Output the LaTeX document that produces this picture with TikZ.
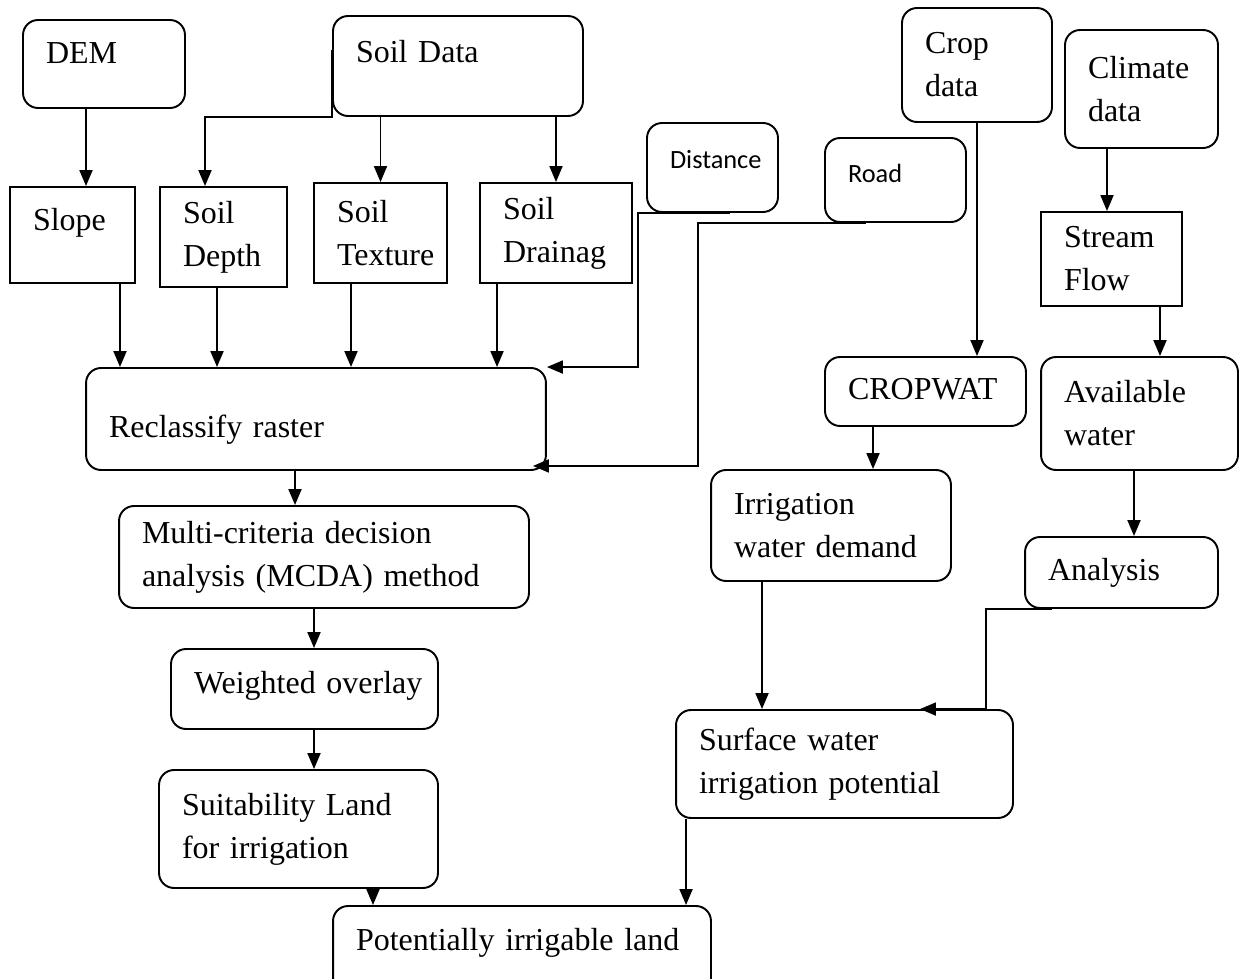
\documentclass[tikz,border=0pt]{standalone}
\usepackage{fontspec}
\setmainfont{Liberation Serif}
\newfontfamily\calibri{Carlito}
\usetikzlibrary{arrows.meta}

\begin{document}
\begin{tikzpicture}[x = 0.02cm, y = -0.02cm,
	every node/.style = {font = \fontsize{18.2}{24.5}\selectfont, align = left, inner xsep = 0.46cm},
	rbox/.style = {draw, rounded corners = 0.3cm, line width = 1.1pt},
	sbox/.style = {draw, line width = 1.1pt},
	sans/.style = {font = \calibri\fontsize{15}{18}\selectfont},
	lift/.style = {text height = 12pt, text depth = #1},
	arr/.style = {-{Triangle[length = 0.32cm, width = 0.26cm]}, line width = 1.1pt}]

	\useasboundingbox (0, 0) rectangle (1240, 979);

	% Input data
	
	\node [rbox, text width = 2.32cm, minimum height = 1.76cm, lift = 12.5pt] (dem) at (104, 64) {DEM};
	\node [rbox, text width = 4.08cm, minimum height = 2.0cm, lift = 16pt] (soil) at (458, 66) {Soil Data};
	\node [rbox, sans, text width = 1.70cm, minimum height = 1.78cm, lift = 11pt] (dist) at (712.5, 167.5) {Distance};
	\node [rbox, sans, text width = 1.90cm, minimum height = 1.68cm, lift = 9pt] (road) at (895.5, 180) {Road};
	\node [rbox, text width = 2.08cm, minimum height = 2.28cm] (crop) at (977, 65) {Crop\\data};
	\node [rbox, text width = 2.14cm, minimum height = 2.36cm] (climate) at (1141.5, 89) {Climate\\data};
	
	% Derived layers
	
	\node [sbox, text width = 1.58cm, minimum height = 1.92cm, lift = 17pt] (slope) at (72.5, 235) {Slope};
	\node [sbox, text width = 1.62cm, minimum height = 2.0cm] (depth) at (223.5, 237) {Soil\\Depth};
	\node [sbox, text width = 1.74cm, minimum height = 2.0cm] (texture) at (380.5, 233) {Soil\\Texture};
	\node [sbox, text width = 2.12cm, minimum height = 2.0cm] (drain) at (556, 233) {Soil\\Drainag};
	\node [sbox, text width = 1.90cm, minimum height = 1.88cm] (stream) at (1111.5, 259) {Stream\\Flow};
	
	% Processing steps
	
	\node [rbox, text width = 3.10cm, minimum height = 1.38cm, lift = 3.4pt] (cropwat) at (925.5, 391.5) {CROPWAT};
	\node [rbox, text width = 3.02cm, minimum height = 2.26cm] (avail) at (1139.5, 413.5) {Available\\water};
	\node [rbox, text width = 8.28cm, minimum height = 2.04cm, text height = 21pt, text depth = 0pt] (reclass) at (316, 419) {Reclassify raster};
	\node [rbox, text width = 7.28cm, minimum height = 2.04cm] (mcda) at (324, 557) {Multi-criteria decision\\analysis (MCDA) method};
	\node [rbox, text width = 3.88cm, minimum height = 2.22cm] (demand) at (831, 525.5) {Irrigation\\water demand};
	\node [rbox, text width = 2.94cm, minimum height = 1.42cm, lift = 3.4pt] (analysis) at (1121.5, 572.5) {Analysis};
	\node [rbox, text width = 4.42cm, minimum height = 1.6cm, lift = 7pt] (overlay) at (304.5, 689) {\mbox{Weighted overlay}};
	\node [rbox, text width = 5.82cm, minimum height = 2.16cm] (surface) at (844.5, 764) {Surface water\\irrigation potential};
	\node [rbox, text width = 4.66cm, minimum height = 2.36cm] (suit) at (298.5, 829) {Suitability Land\\for irrigation};
	\node [rbox, text width = 6.64cm, minimum height = 1.88cm, lift = 15pt] (pot) at (522, 953) {Potentially irrigable land};
	
	% Arrows
	
	\draw [arr] ([xshift = -0.36cm]dem.south) -- ([xshift = -0.36cm]dem.south |- slope.north);
	\draw [arr] ([yshift = 0.32cm]soil.west) |- ([xshift = -0.37cm, yshift = 1.38cm]depth.north) -- ([xshift = -0.37cm]depth.north);
	\draw [arr] (soil.south -| texture.north) -- (texture.north);
	\draw [arr] (soil.south -| drain.north) -- (drain.north);
	
	\draw [arr] ([xshift = 0.95cm]slope.south) -- ([xshift = 0.95cm]slope.south |- reclass.north);
	\draw [arr] ([xshift = -0.13cm]depth.south) -- ([xshift = -0.13cm]depth.south |- reclass.north);
	\draw [arr] ([xshift = -0.59cm]texture.south) -- ([xshift = -0.59cm]texture.south |- reclass.north);
	\draw [arr] ([xshift = -1.18cm]drain.south) -- ([xshift = -1.18cm]drain.south |- reclass.north);
	\draw [arr] ([xshift = 0.35cm]dist.south) -| ([xshift = 1.82cm]reclass.north east) -- (reclass.north east);
	\draw [arr] ([xshift = -0.59cm]road.south) -| ([xshift = 3.02cm, yshift = 0.1cm]reclass.south east)
		-- ([xshift = -0.28cm, yshift = 0.1cm]reclass.south east);
	
	\draw [arr] (crop.south) -- (crop.south |- cropwat.north);
	\draw [arr] ([xshift = -0.69cm]climate.south) -- ([xshift = -0.69cm]climate.south |- stream.north);
	\draw [arr] ([xshift = 0.97cm]stream.south) -- ([xshift = 0.97cm]stream.south |- avail.north);
	\draw [arr] ([xshift = -0.11cm]avail.south) -- ([xshift = -0.11cm]avail.south |- analysis.north);
	\draw [arr] ([xshift = -1.05cm]cropwat.south) -- ([xshift = -1.05cm]cropwat.south |- demand.north);
	
	\draw [arr] ([xshift = -0.42cm]reclass.south) -- ([xshift = -0.42cm]reclass.south |- mcda.north);
	\draw [arr] ([xshift = -0.2cm]mcda.south) -- ([xshift = -0.2cm]mcda.south |- overlay.north);
	\draw [arr] ([xshift = 0.19cm]overlay.south) -- ([xshift = 0.19cm]overlay.south |- suit.north);
	\draw [arr] ([xshift = 1.49cm]suit.south) -- ([xshift = 1.49cm]suit.south |- pot.north);
	
	\draw [arr] ([xshift = -1.38cm]demand.south) -- ([xshift = -1.38cm]demand.south |- surface.north);
	\draw [arr] ([xshift = -1.39cm]analysis.south) -| ([xshift = 2.83cm]surface.north) -- ([xshift = 1.51cm]surface.north);
	\draw [arr] ([xshift = -3.17cm]surface.south) -- ([xshift = -3.17cm]surface.south |- pot.north);
	
\end{tikzpicture}
\end{document}
